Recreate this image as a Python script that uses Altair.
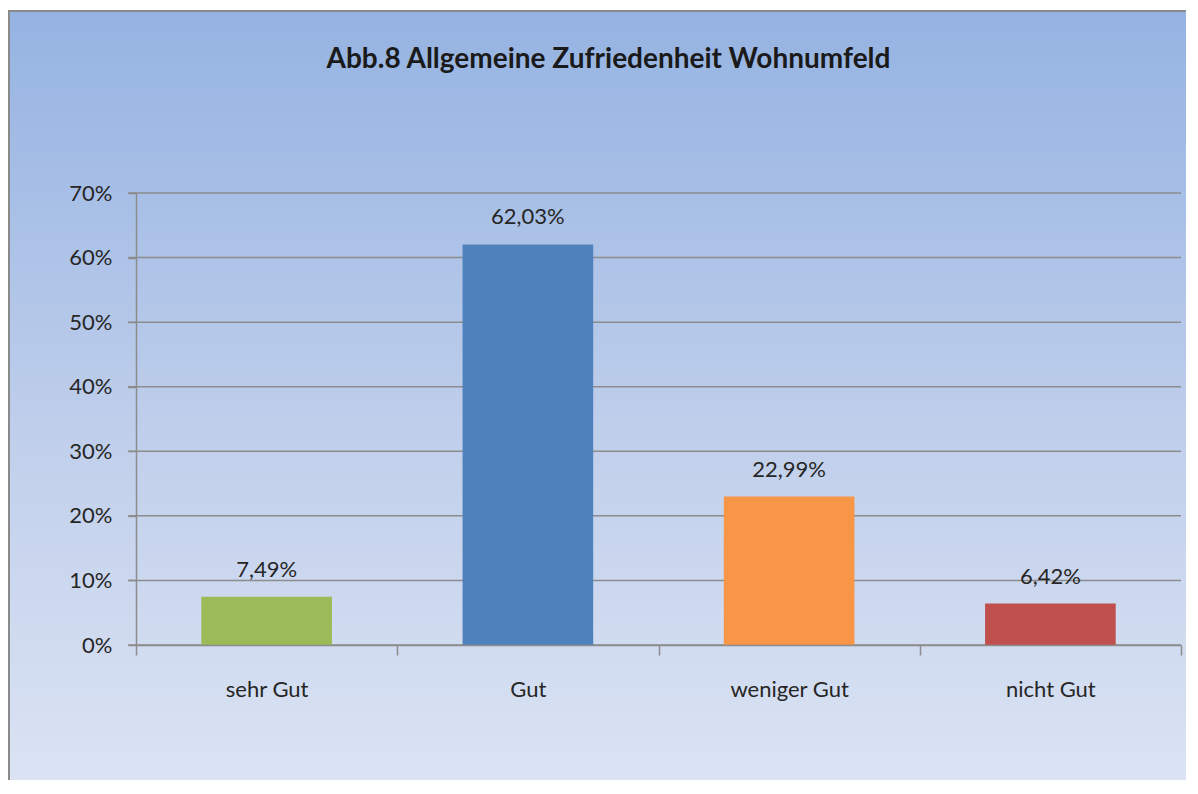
import altair as alt
import pandas as pd

categories = ["sehr Gut", "Gut", "weniger Gut", "nicht Gut"]
values = [0.0749, 0.6203, 0.2299, 0.0642]
y_ticks = [0.0, 0.1, 0.2, 0.3, 0.4, 0.5, 0.6, 0.7]
bar_colors = ["#9BBB59", "#4F81BD", "#F79646", "#C0504D"]

W, H = 1045, 452
FONT = "Lato"
TEXT = "#262626"
GRID = "#8C8C8C"

df = pd.DataFrame({"cat": categories, "v": values})
ticks_df = pd.DataFrame({"t": y_ticks})

yscale = alt.Scale(domain=[0, 0.7], nice=False)
xscale = alt.Scale(domain=categories, paddingInner=0, paddingOuter=0)

bg = alt.Chart(pd.DataFrame({"a": [0]})).mark_rect(
    fill=alt.LinearGradient(
        gradient="linear",
        stops=[alt.GradientStop(color="#95B3E2", offset=0),
               alt.GradientStop(color="#C3D1EC", offset=0.55),
               alt.GradientStop(color="#E0E7F5", offset=1)],
        x1=0, x2=0, y1=0, y2=1),
    stroke="#8A8A8A", strokeWidth=2,
).encode(
    x=alt.value(-127), x2=alt.value(W + 40),
    y=alt.value(-182), y2=alt.value(H + 200),
)

grid = alt.Chart(ticks_df).mark_rule(color=GRID, strokeWidth=1.5).encode(
    y=alt.Y("t:Q", scale=yscale),
    x=alt.value(-8), x2=alt.value(W),
)

base = alt.Chart(df)

bars = base.mark_bar(width=alt.RelativeBandSize(0.5)).encode(
    x=alt.X("cat:N", scale=xscale, sort=categories, title=None,
            axis=alt.Axis(labelAngle=0, labelFont=FONT, labelFontSize=22,
                          labelColor=TEXT, labelPadding=24, tickBand="extent",
                          tickSize=10, tickColor=GRID, tickWidth=1.5,
                          domainColor=GRID, domainWidth=1.5, grid=False, zindex=1)),
    y=alt.Y("v:Q", scale=yscale, title=None,
            axis=alt.Axis(values=y_ticks, format="%", labelFont=FONT, labelFontSize=22,
                          labelColor=TEXT, labelPadding=16, tickSize=8, tickColor=GRID,
                          tickWidth=1.5, domainColor=GRID, domainWidth=1.5,
                          grid=False, zindex=1)),
    color=alt.Color("cat:N", scale=alt.Scale(domain=categories, range=bar_colors), legend=None),
)

labels = base.transform_calculate(
    lab="replace(format(datum.v, '.2%'), '.', ',')"
).mark_text(font=FONT, fontSize=22, color=TEXT, dy=-20, baseline="alphabetic").encode(
    x=alt.X("cat:N", scale=xscale, sort=categories),
    y=alt.Y("v:Q", scale=yscale),
    text="lab:N",
)

chart = alt.layer(bg, grid, bars, labels).properties(
    width=W, height=H,
    autosize=alt.AutoSizeParams(type="none"),
    padding={"left": 128, "top": 185, "right": 5, "bottom": 135},
    title=alt.TitleParams("Abb.8 Allgemeine Zufriedenheit Wohnumfeld", font=FONT,
                          fontSize=28, fontWeight="bold", color="#1a1a1a",
                          anchor="middle", dx=-50, offset=-64),
).configure_view(stroke=None).configure(background="white")

chart.save("out.html", embed_options={"renderer": "svg", "actions": False})
